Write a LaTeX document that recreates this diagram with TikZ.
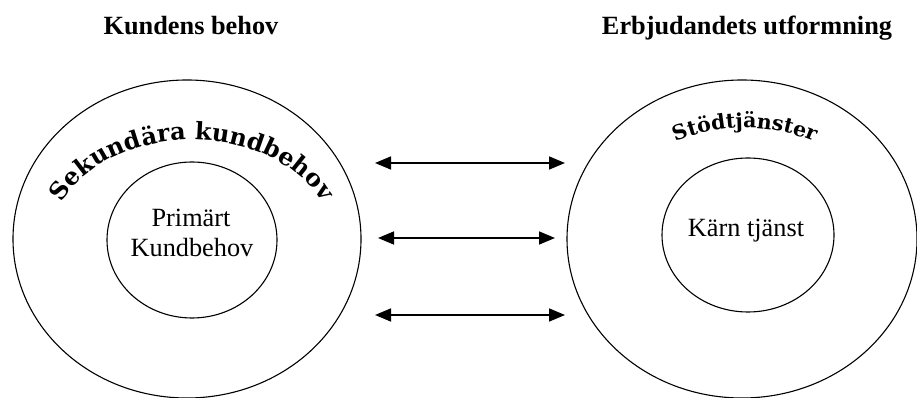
\documentclass[tikz,border=0pt]{standalone}
\usepackage{fontspec}
\setmainfont{Liberation Serif}
\newfontfamily\decofont{DejaVu Serif}
\usetikzlibrary{shapes.geometric,arrows.meta,decorations.text}
\begin{document}
\begin{tikzpicture}[x=1pt,y=1pt,
  ring/.style={draw,ellipse,line width=1.1pt,inner sep=0pt},
  title/.style={font=\fontsize{26.3}{28}\selectfont\bfseries,anchor=base,inner sep=0pt},
  label/.style={font=\fontsize{26.3}{30}\selectfont,anchor=base,inner sep=0pt},
  link/.style={line width=1.6pt,{Triangle[length=16pt,width=13pt]}-{Triangle[length=16pt,width=13pt]}}]
\useasboundingbox (0,0) rectangle (917,398);
% circles
\node[ring,minimum width=348pt,minimum height=318pt] (lout) at (187,159) {};
\node[ring,minimum width=170pt,minimum height=156pt] (lin) at (192,158) {};
\node[ring,minimum width=350pt,minimum height=318pt] (rout) at (742,159) {};
\node[ring,minimum width=172pt,minimum height=154pt] (rin) at (748,163) {};
% titles
\node[title] (t1) at (191,363) {Kundens behov};
\node[title] (t2) at (747,363) {Erbjudandets utformning};
% inner labels
\node[label] (p1) at (191,171) {Primärt};
\node[label] (p2) at (192,141) {Kundbehov};
\node[label] (k1) at (746,161) {Kärn tjänst};
% curved texts
\path[decorate,decoration={text along path,text align=center,
  text={|\decofont\bfseries\fontsize{24}{24}\selectfont|Sekundära kundbehov}}]
  (60.4,192.2) arc[start angle=160,end angle=20,x radius=140,y radius=100];
\path[decorate,decoration={text along path,text align=center,
  text={|\decofont\bfseries\fontsize{20.5}{20.5}\selectfont|Stödtjänster}}]
  (675.1,256) arc[start angle=112.6,end angle=67.4,radius=182];
% arrows
\coordinate (a1l) at (375,235); \coordinate (a1r) at (565,235);
\coordinate (a2l) at (378,160); \coordinate (a2r) at (555,160);
\coordinate (a3l) at (375,83);  \coordinate (a3r) at (565,83);
\draw[link] (a1l) -- (a1r);
\draw[link] (a2l) -- (a2r);
\draw[link] (a3l) -- (a3r);
\end{tikzpicture}
\end{document}
